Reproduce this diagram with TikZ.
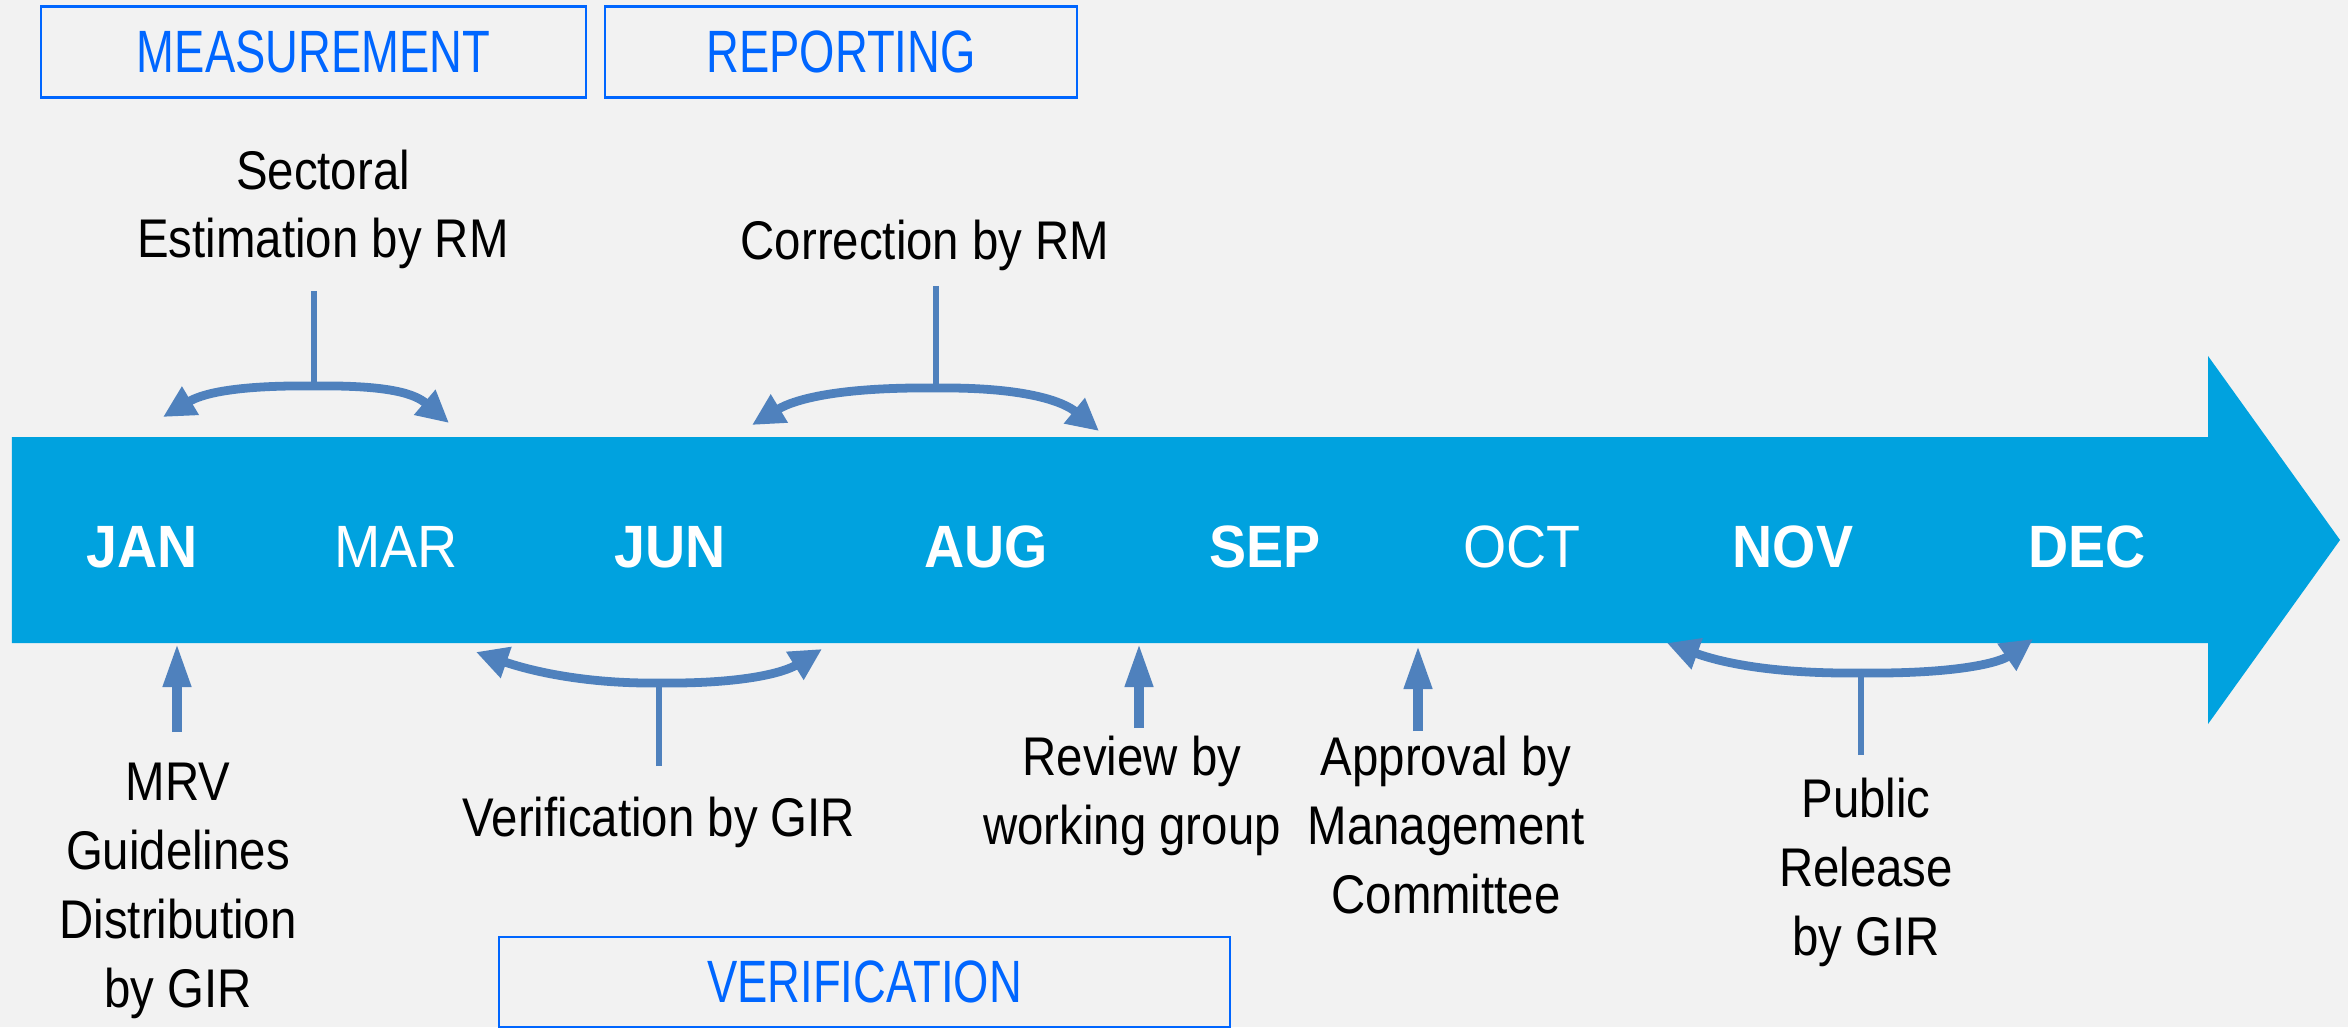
\documentclass[tikz,border=0pt]{standalone}
\usepackage{fontspec}
\setmainfont{Liberation Sans}
\newfontfamily\tlLabelFont[FakeStretch=0.87]{Liberation Sans}
\newfontfamily\tlMonthFont[FakeStretch=0.93]{Liberation Sans}
\newfontfamily\tlPhaseFont[FakeStretch=0.76]{Liberation Sans}
\usepackage{tikz}
\usetikzlibrary{arrows.meta}
\definecolor{tlBg}{HTML}{F2F2F2}
\definecolor{tlBand}{HTML}{00A2DF}
\definecolor{tlArrow}{HTML}{4F81BD}
\definecolor{tlBox}{HTML}{0066FF}
\tikzset{
  tlmonth/.style={anchor=base,inner sep=0pt,text=white,
                  font=\tlMonthFont\fontsize{17}{20}\selectfont},
  tlmonthb/.style={tlmonth,font=\tlMonthFont\bfseries\fontsize{17}{20}\selectfont},
  tlphase/.style={draw=tlBox,line width=0.8pt,text=tlBox,inner sep=0pt,
                  minimum height=9.1mm,font=\tlPhaseFont\fontsize{17}{20}\selectfont},
  tllabel/.style={anchor=base,align=center,inner sep=0pt,
                  font=\tlLabelFont\fontsize{15.5}{19.6}\selectfont},
  tlbrace/.style={draw=tlArrow,line width=2.5pt,
                  -{Triangle[length=3.2mm,width=3.1mm]}},
  tlstem/.style={draw=tlArrow,line width=1.6pt},
  tlpush/.style={draw=tlArrow,line width=2.8pt,
                 -{Triangle[length=4.4mm,width=2.6mm]}}
}

\begin{document}
\begin{tikzpicture}[x=1cm,y=1cm]
  \useasboundingbox (0,0) rectangle (23.48,10.27);
  \fill[tlBg] (0,0) rectangle (23.48,10.27);

  % timeline band
  \fill[tlBand] (0.12,5.90) -- (22.08,5.90) -- (22.08,6.71) -- (23.40,4.87)
    -- (22.08,3.03) -- (22.08,3.84) -- (0.12,3.84) -- cycle;
  \node[tlmonthb] (jan) at (1.42,4.60) {JAN};
  \node[tlmonth]  (mar) at (3.96,4.60) {MAR};
  \node[tlmonthb] (jun) at (6.70,4.60) {JUN};
  \node[tlmonthb] (aug) at (9.86,4.60) {AUG};
  \node[tlmonthb] (sep) at (12.65,4.60) {SEP};
  \node[tlmonth]  (oct) at (15.22,4.60) {OCT};
  \node[tlmonthb] (nov) at (17.93,4.60) {NOV};
  \node[tlmonthb] (dec) at (20.87,4.60) {DEC};

  % phases
  \node[tlphase,minimum width=54.5mm] (meas) at (3.135,9.75) {MEASUREMENT};
  \node[tlphase,minimum width=47.2mm] (rep) at (8.41,9.75) {REPORTING};
  \node[tlphase,minimum width=73.1mm,minimum height=9mm]
    (verif) at (8.645,0.45) {VERIFICATION};

  % steps above the band
  \node[tllabel] (sectoral) at (3.23,7.69) {Sectoral\\Estimation by RM};
  \node[tllabel] (correct) at (9.25,7.68) {Correction by RM};
  \coordinate (sectop) at (3.14,7.36);
  \coordinate (sechub) at (3.14,6.41);
  \coordinate (secl) at (1.63,6.10);
  \coordinate (secr) at (4.49,6.04);
  \draw[tlstem] (sectop) -- (sechub);
  \draw[tlbrace] (sechub) .. controls (2.30,6.42) and (2.00,6.32) .. (secl);
  \draw[tlbrace] (sechub) .. controls (3.90,6.42) and (4.15,6.33) .. (secr);
  \coordinate (cortop) at (9.36,7.41);
  \coordinate (corhub) at (9.36,6.39);
  \coordinate (corl) at (7.52,6.02);
  \coordinate (corr) at (10.99,5.96);
  \draw[tlstem] (cortop) -- (corhub);
  \draw[tlbrace] (corhub) .. controls (8.40,6.40) and (7.95,6.28) .. (corl);
  \draw[tlbrace] (corhub) .. controls (10.30,6.40) and (10.65,6.24) .. (corr);

  % steps below the band
  \node[tllabel] (mrv) at (1.78,0.20) {MRV\\Guidelines\\Distribution\\by GIR};
  \node[tllabel] (vergir) at (6.59,1.91) {Verification by GIR};
  \node[tllabel] (review) at (11.32,1.83) {Review by\\working group};
  \node[tllabel] (approve) at (14.46,1.14) {Approval by\\Management\\Committee};
  \node[tllabel] (public) at (18.66,0.72) {Public\\Release\\by GIR};
  \coordinate (janfoot) at (1.77,2.95);
  \coordinate (jantip) at (1.77,3.84);
  \draw[tlpush] (janfoot) -- (jantip);
  \coordinate (revfoot) at (11.39,2.99);
  \coordinate (revtip) at (11.39,3.84);
  \draw[tlpush] (revfoot) -- (revtip);
  \coordinate (appfoot) at (14.18,2.96);
  \coordinate (apptip) at (14.18,3.82);
  \draw[tlpush] (appfoot) -- (apptip);
  \coordinate (verfoot) at (6.59,2.61);
  \coordinate (verhub) at (6.59,3.44);
  \coordinate (verl) at (4.76,3.75);
  \coordinate (verr) at (8.22,3.78);
  \draw[tlstem] (verfoot) -- (verhub);
  \draw[tlbrace] (verhub) .. controls (5.80,3.43) and (5.25,3.58) .. (verl);
  \draw[tlbrace] (verhub) .. controls (7.45,3.43) and (7.85,3.55) .. (verr);
  \coordinate (pubfoot) at (18.61,2.72);
  \coordinate (pubhub) at (18.61,3.54);
  \coordinate (publ) at (16.67,3.84);
  \coordinate (pubr) at (20.33,3.88);
  \draw[tlstem] (pubfoot) -- (pubhub);
  \draw[tlbrace] (pubhub) .. controls (17.70,3.53) and (17.20,3.65) .. (publ);
  \draw[tlbrace] (pubhub) .. controls (19.60,3.53) and (20.00,3.65) .. (pubr);
\end{tikzpicture}
\end{document}
